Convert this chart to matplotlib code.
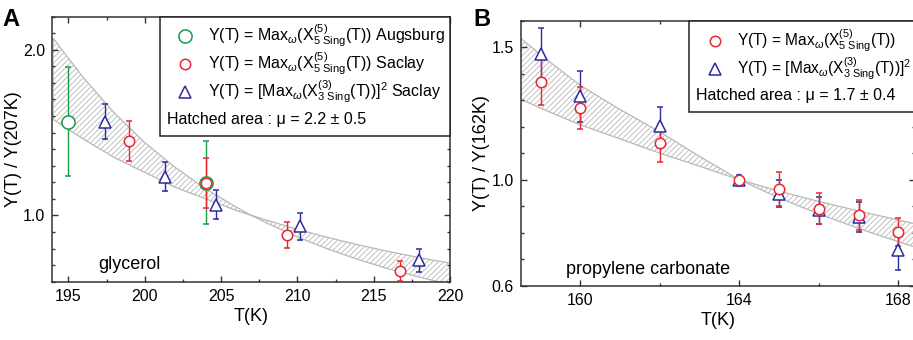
import matplotlib
matplotlib.use('Agg')
import matplotlib.pyplot as plt
from matplotlib.patches import Rectangle
from matplotlib.ticker import MultipleLocator, FixedLocator

plt.rcParams['font.family'] = ['Liberation Sans', 'DejaVu Sans']
plt.rcParams['mathtext.fontset'] = 'custom'
plt.rcParams['mathtext.rm'] = 'Liberation Sans'
plt.rcParams['mathtext.it'] = 'Liberation Sans:italic'
plt.rcParams['mathtext.bf'] = 'Liberation Sans:bold'
plt.rcParams['hatch.linewidth'] = 0.6

RED = '#e8262e'
GREEN = '#1c9a48'
BLUE = '#2b2b9c'
HATCH = '#b8b8b8'

# ---- panel A : glycerol ----
t_aug = [195.0, 204.0]
y_aug = [1.567, 1.197]
e_aug = [0.33, 0.25]

t_sac5_a = [199.0, 204.0, 209.3, 216.7]
y_sac5_a = [1.449, 1.197, 0.883, 0.664]
e_sac5_a = [0.12, 0.15, 0.08, 0.06]

t_sac3_a = [197.4, 201.3, 204.7, 210.2, 218.0]
y_sac3_a = [1.567, 1.235, 1.066, 0.934, 0.728]
e_sac3_a = [0.105, 0.09, 0.088, 0.08, 0.07]

band_t_a = [194, 196, 198, 200, 202, 204, 206, 207, 208, 210, 212, 214, 216, 218, 220]
band_hi_a = [2.07, 1.83, 1.62, 1.44, 1.29, 1.16, 1.05, 1.0, 0.971, 0.916, 0.867, 0.822, 0.782, 0.745, 0.712]
band_lo_a = [1.58, 1.46, 1.35, 1.26, 1.17, 1.10, 1.03, 1.0, 0.954, 0.870, 0.797, 0.733, 0.677, 0.627, 0.583]

# ---- panel B : propylene carbonate ----
t_sac5_b = [159, 160, 162, 164, 165, 166, 167, 168]
y_sac5_b = [1.369, 1.270, 1.138, 1.0, 0.965, 0.891, 0.867, 0.802]
e_sac5_b = [0.088, 0.08, 0.072, 0.012, 0.063, 0.058, 0.055, 0.052]

t_sac3_b = [159, 160, 162, 164, 165, 166, 167, 168]
y_sac3_b = [1.474, 1.314, 1.201, 0.997, 0.947, 0.884, 0.859, 0.736]
e_sac3_b = [0.098, 0.095, 0.072, 0.02, 0.05, 0.052, 0.058, 0.075]

band_t_b = [158.5, 159, 160, 161, 162, 163, 164, 165, 166, 167, 168, 168.5]
band_hi_b = [1.534, 1.471, 1.356, 1.265, 1.18, 1.088, 1.0, 0.957, 0.918, 0.882, 0.848, 0.831]
band_lo_b = [1.304, 1.270, 1.207, 1.154, 1.10, 1.051, 1.0, 0.931, 0.871, 0.816, 0.766, 0.742]

lab_aug = r'Y(T) = Max$_{\omega}$($\mathrm{X}^{(5)}_{5\ \mathrm{Sing}}$(T)) Augsburg'
lab_sac5 = r'Y(T) = Max$_{\omega}$($\mathrm{X}^{(5)}_{5\ \mathrm{Sing}}$(T)) Saclay'
lab_sac3 = r'Y(T) = [Max$_{\omega}$($\mathrm{X}^{(3)}_{3\ \mathrm{Sing}}$(T))]$^{2}$ Saclay'
lab_sac5_b = r'Y(T) = Max$_{\omega}$($\mathrm{X}^{(5)}_{5\ \mathrm{Sing}}$(T))'
lab_sac3_b = r'Y(T) = [Max$_{\omega}$($\mathrm{X}^{(3)}_{3\ \mathrm{Sing}}$(T))]$^{2}$'


def style_axes(ax):
    for s in ax.spines.values():
        s.set_linewidth(1.1)
        s.set_color('#333333')
    ax.tick_params(which='both', direction='in', top=True, right=True,
                   width=1, color='#333333', labelsize=11.5, pad=5)
    ax.tick_params(which='major', length=4.5)
    ax.tick_params(which='minor', length=2.5)


def draw_band(ax, t, lo, hi):
    ax.fill_between(t, lo, hi, facecolor='none', edgecolor=HATCH,
                    hatch='//////', linewidth=0.9, zorder=1)


def draw_points(ax, t, y, e, marker, color, ms):
    ax.errorbar(t, y, yerr=e, fmt=marker, color=color, mfc='white', mec=color,
                ms=ms, mew=1.1, elinewidth=1.0, capsize=2.5, capthick=1.0, zorder=3)


def legend_box(ax, x0, y0, rows, note, note_x, note_y, fs):
    ax.add_patch(Rectangle((x0, y0), 1 - x0, 1 - y0, transform=ax.transAxes,
                           facecolor='white', edgecolor='#222222', lw=1.1,
                           zorder=5, clip_on=False))
    for mx, tx, ry, marker, color, ms, label in rows:
        ax.plot([mx], [ry], marker=marker, ms=ms, mfc='white', mec=color, mew=1.1,
                transform=ax.transAxes, zorder=6, clip_on=False)
        ax.text(tx, ry, label, transform=ax.transAxes, fontsize=fs,
                va='center', ha='left', zorder=6)
    ax.text(note_x, note_y, note, transform=ax.transAxes, fontsize=11.5,
            va='center', ha='left', zorder=6)


fig = plt.figure(figsize=(9.13, 3.4), dpi=100)

# ---------------- A ----------------
axA = fig.add_axes([0.0573, 0.1715, 0.4356, 0.7795])
draw_band(axA, band_t_a, band_lo_a, band_hi_a)
draw_points(axA, t_aug, y_aug, e_aug, 'o', GREEN, 9.5)
draw_points(axA, t_sac5_a, y_sac5_a, e_sac5_a, 'o', RED, 7.5)
draw_points(axA, t_sac3_a, y_sac3_a, e_sac3_a, '^', BLUE, 9)
axA.set_xlim(193.95, 220)
axA.set_ylim(0.6, 2.2)
axA.xaxis.set_major_locator(MultipleLocator(5))
axA.xaxis.set_minor_locator(MultipleLocator(2.5))
axA.yaxis.set_major_locator(FixedLocator([1.0, 2.0]))
axA.yaxis.set_minor_locator(MultipleLocator(0.1))
axA.yaxis.set_major_formatter(plt.FormatStrFormatter('%.1f'))
style_axes(axA)
axA.set_xlabel('T(K)', fontsize=13, labelpad=3)
axA.set_ylabel('Y(T) / Y(207K)', fontsize=13, labelpad=1)
axA.text(0.115, 0.065, 'glycerol', transform=axA.transAxes, fontsize=13,
         va='center', ha='left')
legend_box(axA, 0.271, 0.55, [
    (0.334, 0.392, 0.928, 'o', GREEN, 9.5, lab_aug),
    (0.334, 0.392, 0.822, 'o', RED, 7.5, lab_sac5),
    (0.334, 0.392, 0.717, '^', BLUE, 9, lab_sac3),
], 'Hatched area : μ = 2.2 ± 0.5', 0.288, 0.613, 11.5)

# ---------------- B ----------------
axB = fig.add_axes([0.5703, 0.1597, 0.4317, 0.7794])
draw_band(axB, band_t_b, band_lo_b, band_hi_b)
draw_points(axB, t_sac3_b, y_sac3_b, e_sac3_b, '^', BLUE, 9)
draw_points(axB, t_sac5_b, y_sac5_b, e_sac5_b, 'o', RED, 7.5)
axB.set_xlim(158.5, 168.415)
axB.set_ylim(0.6, 1.6)
axB.xaxis.set_major_locator(MultipleLocator(4))
axB.xaxis.set_minor_locator(MultipleLocator(2))
axB.yaxis.set_major_locator(FixedLocator([0.6, 1.0, 1.5]))
axB.yaxis.set_minor_locator(MultipleLocator(0.1))
axB.yaxis.set_major_formatter(plt.FormatStrFormatter('%.1f'))
style_axes(axB)
axB.set_xlabel('T(K)', fontsize=13, labelpad=3)
axB.set_ylabel('Y(T) / Y(162K)', fontsize=13, labelpad=1)
axB.text(0.115, 0.062, 'propylene carbonate', transform=axB.transAxes,
         fontsize=13, va='center', ha='left')
legend_box(axB, 0.427, 0.655, [
    (0.493, 0.548, 0.925, 'o', RED, 7.5, lab_sac5_b),
    (0.493, 0.548, 0.818, '^', BLUE, 9, lab_sac3_b),
], 'Hatched area : μ = 1.7 ± 0.4', 0.446, 0.717, 11.2)

fig.text(0.003, 0.975, 'A', fontsize=17, fontweight='bold', va='top', ha='left',
         family=['Liberation Sans Narrow', 'Liberation Sans'])
fig.text(0.518, 0.975, 'B', fontsize=17, fontweight='bold', va='top', ha='left',
         family=['Liberation Sans Narrow', 'Liberation Sans'])

fig.savefig('out.png', dpi=100)
